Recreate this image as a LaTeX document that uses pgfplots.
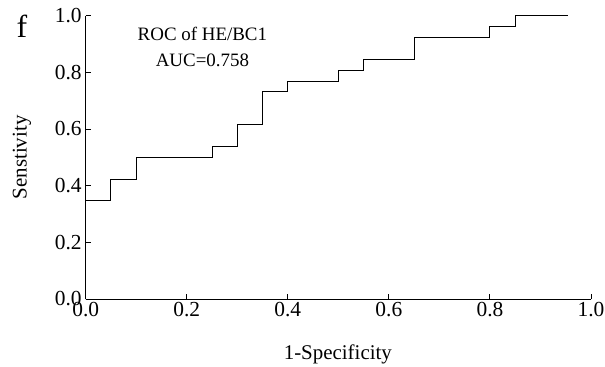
\documentclass[border=0pt]{standalone}
\usepackage{pgfplots}
\pgfplotsset{compat=1.18}
\usepackage{fontspec}
\setmainfont{Liberation Serif}
\begin{document}
\begin{tikzpicture}
\useasboundingbox (-85.7bp,-68bp) rectangle (519.3bp,299bp);
\begin{axis}[
  scale only axis,
  width=505.3bp, height=283.3bp,
  xmin=0, xmax=1, ymin=0, ymax=1,
  axis lines*=left,
  axis line style={line width=1bp},
  tick style={line width=1bp, black},
  tick align=inside,
  major tick length=5bp,
  xtick={0,0.2,0.4,0.6,0.8,1.0},
  ytick={0,0.2,0.4,0.6,0.8,1.0},
  /pgf/number format/assume math mode=true,
  /pgf/number format/fixed,
  /pgf/number format/fixed zerofill,
  /pgf/number format/precision=1,
  ticklabel style={font=\fontsize{21.5}{24}\selectfont},
  yticklabel style={xshift=-0.5bp},
  xticklabel style={yshift=0bp},
  xlabel={1-Specificity},
  ylabel={Senstivity},
  label style={font=\fontsize{21}{24}\selectfont},
  xlabel style={at={(axis description cs:0.499,-0.194)}, anchor=center},
  ylabel style={at={(axis description cs:-0.126,0.5)}, anchor=center},
  clip=false,
]
\addplot[const plot, black, line width=1bp] coordinates {
  (0,0.346) (0.05,0.423) (0.1,0.5) (0.25,0.538) (0.3,0.615) (0.35,0.731)
  (0.4,0.769) (0.5,0.808) (0.55,0.846) (0.65,0.923) (0.8,0.962) (0.85,1) (0.955,1)
};
\node[font=\fontsize{19}{22}\selectfont, anchor=center] at (axis description cs:0.231,0.935) {ROC of HE/BC1};
\node[font=\fontsize{19}{22}\selectfont, anchor=center] at (axis description cs:0.231,0.844) {AUC=0.758};
\node[font=\fontsize{32}{36}\selectfont, anchor=center] at (axis description cs:-0.126,0.964) {f};
\end{axis}
\end{tikzpicture}
\end{document}
